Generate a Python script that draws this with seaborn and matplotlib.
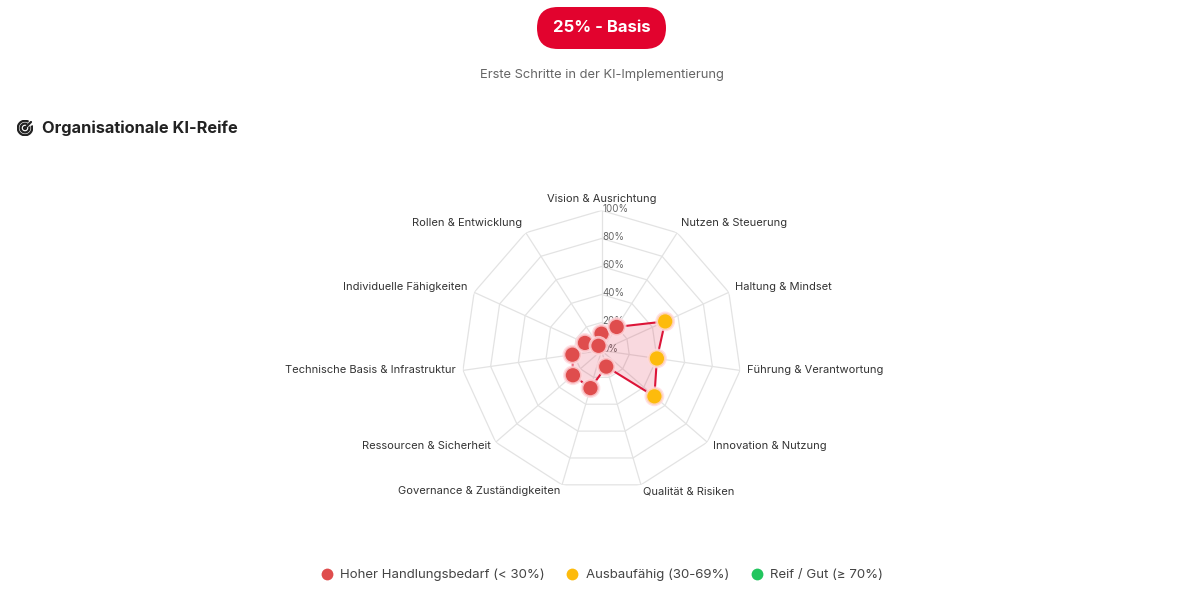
import numpy as np
import matplotlib
matplotlib.use("Agg")
import matplotlib.pyplot as plt
from matplotlib.lines import Line2D
from matplotlib.patches import FancyBboxPatch, Circle, Arc
import seaborn as sns

# Daten: Reifegrad je Dimension (in %)
categories = [
    "Vision & Ausrichtung",
    "Nutzen & Steuerung",
    "Haltung & Mindset",
    "Führung & Verantwortung",
    "Innovation & Nutzung",
    "Qualität & Risiken",
    "Governance & Zuständigkeiten",
    "Ressourcen & Sicherheit",
    "Technische Basis & Infrastruktur",
    "Individuelle Fähigkeiten",
    "Rollen & Entwicklung",
]
scores = [12, 20, 50, 40, 50, 12, 28, 27, 21, 13, 4]
tick_values = [0, 20, 40, 60, 80, 100]
tick_labels = ["0%", "20%", "40%", "60%", "80%", "100%"]
legend_labels = ["Hoher Handlungsbedarf (< 30%)", "Ausbaufähig (30-69%)", "Reif / Gut (≥ 70%)"]

overall = round(np.mean(scores))
badge_text = f"{overall}% - Basis"
subtitle = "Erste Schritte in der KI-Implementierung"
section_title = "Organisationale KI-Reife"

RED = "#df4d4d"
YELLOW = "#fdbb0c"
GREEN = "#22c55e"
LINE = "#dc1538"
GRID = "#e3e3e3"


def level_color(v):
    if v < 30:
        return RED
    if v < 70:
        return YELLOW
    return GREEN


sns.set_theme(style="white")
plt.rcParams["font.family"] = ["Inter", "DejaVu Sans"]

W, H = 1200, 613
fig = plt.figure(figsize=(W / 100, H / 100), dpi=100)
fig.patch.set_facecolor("white")

# Radar-Achse: Mittelpunkt (601, 350) px, Radius 140 px
cx, cy, R = 601.5, 350.5, 140
ax = fig.add_axes([(cx - R) / W, (H - cy - R) / H, 2 * R / W, 2 * R / H], projection="polar")
ax.set_theta_zero_location("N")
ax.set_theta_direction(-1)
ax.set_ylim(0, 100)
ax.grid(False)
ax.spines["polar"].set_visible(False)
ax.set_xticks([])
ax.set_yticks([])
ax.set_facecolor("none")

n = len(categories)
theta = np.linspace(0, 2 * np.pi, n, endpoint=False)
theta_closed = np.append(theta, theta[0])

# polygonales Gitter
for lv in tick_values[1:]:
    ax.plot(theta_closed, [lv] * (n + 1), color=GRID, lw=0.9, zorder=1)
for t in theta:
    ax.plot([t, t], [0, 100], color=GRID, lw=0.9, zorder=1)

# Tick-Beschriftungen entlang der Vertikalen
for v, lab in zip(tick_values, tick_labels):
    ax.annotate(lab, xy=(0, v), xytext=(1, 2), textcoords="offset pixels",
                ha="left", va="center", fontsize=7, color="#666666", zorder=2)

# Datenfläche
vals_closed = np.append(scores, scores[0])
ax.fill(theta_closed, vals_closed, color=LINE, alpha=0.16, lw=0, zorder=3)
ax.plot(theta_closed, vals_closed, color=LINE, lw=1.5, zorder=4)
sns.scatterplot(x=theta, y=scores, hue=[str(i) for i in range(n)],
                palette=[level_color(v) for v in scores], s=150,
                edgecolor=(1, 0.85, 0.87, 0.8), linewidth=2, legend=False, ax=ax, zorder=5)

# Kategorien
for t, lab in zip(theta, categories):
    s, c = np.sin(t), np.cos(t)
    if abs(s) < 0.05:
        ha = "center"
    elif s > 0:
        ha = "left"
    else:
        ha = "right"
    ax.annotate(lab, xy=(t, 100), xytext=(7 * s, 9 * c + 2), textcoords="offset pixels",
                ha=ha, va="center", fontsize=8, color="#333333", annotation_clip=False)

# Kopfbereich: Badge + Untertitel
bw, bh = 129 / W, 42 / H
badge = FancyBboxPatch((cx / W - bw / 2, 1 - 49 / H), bw, bh,
                       boxstyle=f"round,pad=0,rounding_size={21 / W}",
                       transform=fig.transFigure, facecolor="#e2032e", edgecolor="none",
                       mutation_aspect=W / H)
fig.patches.append(badge)
fig.text(cx / W, 1 - 28 / H, badge_text, ha="center", va="center",
         fontsize=12, fontweight="bold", color="white")
fig.text(cx / W, 1 - 75 / H, subtitle, ha="center", va="center", fontsize=9.3, color="#666666")

# Abschnittstitel mit kleinem Radar-Icon
iax = fig.add_axes([17 / W, 1 - 136 / H, 16 / W, 16 / H])
iax.set_xlim(-1, 1)
iax.set_ylim(-1, 1)
iax.set_aspect("equal")
iax.axis("off")
iax.add_patch(Arc((0, 0), 1.8, 1.8, theta1=60, theta2=380, color="#222222", lw=1.6))
iax.add_patch(Arc((0, 0), 1.1, 1.1, theta1=60, theta2=380, color="#222222", lw=1.6))
iax.add_patch(Circle((0, 0), 0.18, color="#222222"))
iax.plot([0, 0.75], [0, 0.75], color="#222222", lw=1.6)
fig.text(42 / W, 1 - 128 / H, section_title, ha="left", va="center",
         fontsize=11.8, fontweight="bold", color="#222222")

# Legende
handles = [Line2D([0], [0], marker="o", ls="none", markersize=8.5, markerfacecolor=col,
                  markeredgecolor="none") for col in (RED, YELLOW, GREEN)]
fig.legend(handles, legend_labels, loc="center", bbox_to_anchor=(cx / W, 1 - 575 / H),
           ncol=3, frameon=False, fontsize=9.5, labelcolor="#444444",
           handletextpad=0.5, columnspacing=1.6, handlelength=1.0)

fig.savefig("out.png", dpi=100, facecolor="white")
